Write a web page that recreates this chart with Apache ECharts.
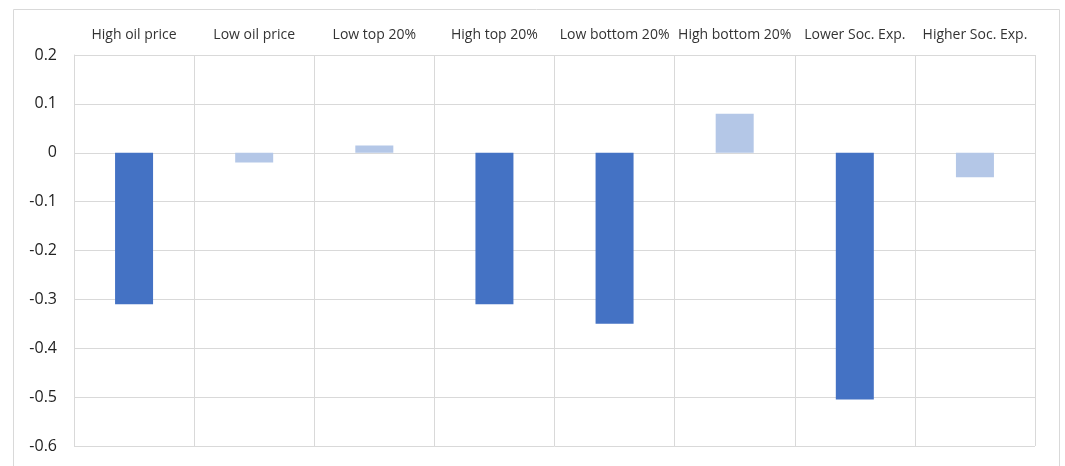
<!DOCTYPE html>
<html><head><meta charset="utf-8">
<script src="https://cdn.jsdelivr.net/npm/echarts@6/dist/echarts.min.js"></script>
<style>html,body{margin:0;padding:0;background:#fff}#c{width:1065px;height:466px}</style>
</head><body><div id="c"></div>
<script>
const categories = ["High oil price","Low oil price","Low top 20%","High top 20%","Low bottom 20%","High bottom 20%","Lower Soc. Exp.","Higher Soc. Exp."];
const values = [-0.31, -0.02, 0.015, -0.31, -0.35, 0.08, -0.505, -0.05];
const highlighted = [true, false, false, true, true, false, true, false];
const yTicks = [-0.6, 0.2, 0.1];

const chart = echarts.init(document.getElementById('c'));
chart.setOption({
  animation: false,
  graphic: [{type:'rect', shape:{x:13.5,y:9.5,width:1046,height:470}, style:{fill:'none', stroke:'#d9d9d9', lineWidth:1}}],
  grid: {left:74, right:30, top:55, bottom:20},
  xAxis: {
    type:'category', data:categories, position:'top',
    axisLine:{show:false}, axisTick:{show:false},
    axisLabel:{margin:13, fontSize:14, color:'#333', fontFamily:'Open Sans', interval:0},
    splitLine:{show:true, interval:0, lineStyle:{color:'#d9d9d9', width:1}}
  },
  yAxis: {
    type:'value', min:yTicks[0], max:yTicks[1], interval:yTicks[2],
    axisLine:{show:true, lineStyle:{color:'#d9d9d9', width:1}}, axisTick:{show:false},
    axisLabel:{fontSize:16, color:'#222', fontFamily:'Open Sans', margin:17,
      formatter: v => { const r = Math.round(v*10)/10; return r === 0 ? '0' : String(r); }},
    splitLine:{lineStyle:{color:'#d9d9d9', width:1}}
  },
  series: [{
    type:'bar', data: values, barWidth:38,
    itemStyle:{color: p => highlighted[p.dataIndex] ? '#4472C4' : '#B4C7E7'}
  }]
});
</script></body></html>
